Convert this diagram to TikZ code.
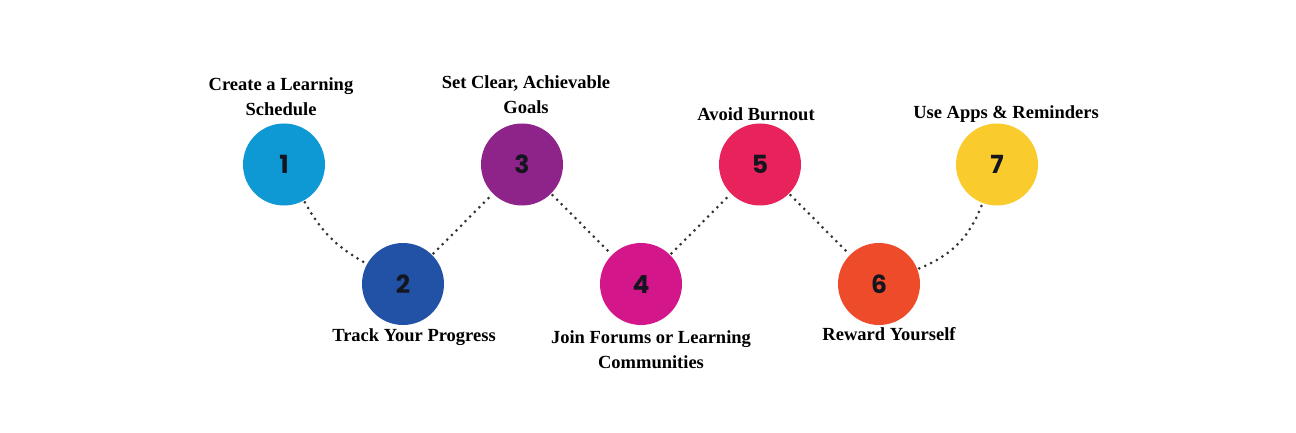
\documentclass[tikz,border=0pt]{standalone}
\usepackage{fontspec}
\setmainfont{Liberation Serif}
\newfontfamily\numfont{Poppins}
\definecolor{cOne}{HTML}{0E98D4}
\definecolor{cTwo}{HTML}{2252A5}
\definecolor{cThree}{HTML}{8E2389}
\definecolor{cFour}{HTML}{D4168B}
\definecolor{cFive}{HTML}{E8225A}
\definecolor{cSix}{HTML}{EE4B2B}
\definecolor{cSeven}{HTML}{F9CB2C}
\definecolor{dotc}{HTML}{333333}
\definecolor{numc}{HTML}{15151F}
\tikzset{
  stepcircle/.style={circle, minimum size=82pt, inner sep=0pt, fill=#1,
    font=\numfont\bfseries\fontsize{25}{28}\selectfont, text=numc},
  steplabel/.style={align=center, font=\bfseries\fontsize{18.5}{25}\selectfont, text=black},
  dotline/.style={draw=dotc, line width=3pt, line cap=round, dash pattern=on 0pt off 6.5pt, shorten <=2pt, shorten >=2pt}
}
\begin{document}
\begin{tikzpicture}[x=1pt,y=-1pt]
\useasboundingbox[fill=white] (0,0) rectangle (1296,433);
\node[stepcircle=cOne]   (s1) at (284,164.5) {1};
\node[stepcircle=cTwo]   (s2) at (403,284) {2};
\node[stepcircle=cThree] (s3) at (522,164.5) {3};
\node[stepcircle=cFour]  (s4) at (641,284) {4};
\node[stepcircle=cFive]  (s5) at (760,164.5) {5};
\node[stepcircle=cSix]   (s6) at (879,284) {6};
\node[stepcircle=cSeven] (s7) at (997,164.5) {7};

\draw[dotline] (s1) to[bend right=16] (s2);
\draw[dotline] (s2) -- (s3);
\draw[dotline] (s3) -- (s4);
\draw[dotline] (s4) -- (s5);
\draw[dotline] (s5) -- (s6);
\draw[dotline] (s6) to[bend right=24] (s7);

\node[steplabel] (l1) at (281,97) {Create a Learning\\Schedule};
\node[steplabel] (l3) at (526,95) {Set Clear, Achievable\\Goals};
\node[steplabel] (l5) at (756,114) {Avoid Burnout};
\node[steplabel] (l7) at (1006,114) {Use Apps \& Reminders};
\node[steplabel] (l2) at (414,337) {Track Your Progress};
\node[steplabel] (l4) at (651,350) {Join Forums or Learning\\Communities};
\node[steplabel] (l6) at (889,334) {Reward Yourself};
\end{tikzpicture}
\end{document}
